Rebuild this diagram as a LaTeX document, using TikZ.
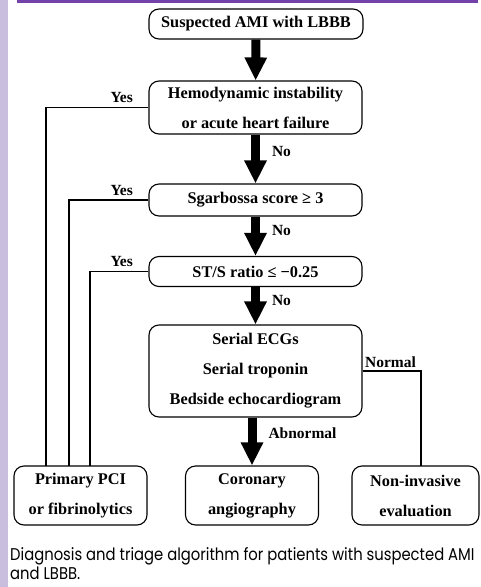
\documentclass[tikz,border=0pt]{standalone}
\usepackage{fontspec}
\setmainfont{Liberation Serif}
\newfontfamily\capfont[FakeStretch=0.87]{Poppins}
\usetikzlibrary{arrows.meta}
\definecolor{lavstrip}{RGB}{201,190,221}
\definecolor{topbar}{RGB}{116,64,170}

\begin{document}
\begin{tikzpicture}[x=1pt,y=-1pt,
  box/.style={draw, line width=1.1pt, rounded corners=10pt, align=center,
    font=\fontsize{16.3}{30}\selectfont\bfseries, inner sep=0pt},
  bigarrow/.style={line width=9pt, -{Triangle[width=21pt,length=23pt]}},
  lbl/.style={font=\fontsize{15.5}{18}\selectfont\bfseries, inner sep=1pt},
  link/.style={line width=1.1pt}]
\useasboundingbox (0,0) rectangle (480,587);
\clip (0,0) rectangle (480,587);
% page frame
\fill[lavstrip] (0,0) rectangle (8,587);
\fill[topbar] (17,0) rectangle (478,3);
%
\node[box, minimum width=214pt, minimum height=30pt] (start) at (256,24) {Suspected AMI with LBBB};
\node[box, minimum width=213pt, minimum height=53pt] (hemo) at (255.5,107.5) {Hemodynamic instability\\or acute heart failure};
\node[box, minimum width=213pt, minimum height=32pt] (sgar) at (255.5,200) {Sgarbossa score ≥ 3};
\node[box, minimum width=213pt, minimum height=30pt] (stsr) at (255.5,271.5) {ST/S ratio ≤ −0.25};
\node[box, minimum width=213pt, minimum height=92pt] (serial) at (255.5,371) {Serial ECGs\\Serial troponin\\Bedside echocardiogram};
%
\node[box, minimum width=133pt, minimum height=59pt] (pci) at (80.5,495.5) {Primary PCI\\or fibrinolytics};
\node[box, minimum width=133pt, minimum height=59pt] (coro) at (252,495.5) {Coronary\\angiography};
\node[box, minimum width=127pt, minimum height=59pt] (noninv) at (415.5,495.5) {Non-invasive\\evaluation};
%
\coordinate (p1) at (46,466);
\coordinate (p2) at (69,466);
\coordinate (p3) at (90,466);
\coordinate (n1) at (421,466);
%
\draw[bigarrow] (start) -- (hemo);
\draw[bigarrow] (hemo) -- node[lbl, right=11pt, pos=0.35] {No} (sgar);
\draw[bigarrow] (sgar) -- node[lbl, right=11pt, pos=0.35] {No} (stsr);
\draw[bigarrow] (stsr) -- node[lbl, right=11pt, pos=0.35] {No} (serial);
\draw[bigarrow] (serial.south -| coro.north) -- node[lbl, right=11pt, pos=0.33] {Abnormal} (coro.north);
%
\draw[link] (hemo.west) node[lbl, above left, xshift=-14pt, yshift=3pt] {Yes} -| (p1);
\draw[link] (sgar.west) node[lbl, above left, xshift=-14pt, yshift=3pt] {Yes} -| (p2);
\draw[link] (stsr.west) node[lbl, above left, xshift=-14pt, yshift=3pt] {Yes} -| (p3);
\draw[link] (serial.east) node[lbl, above right, xshift=1pt, yshift=1.5pt] {Normal} -| (n1);
%
\node[anchor=north west, inner sep=0pt, align=left, font=\capfont\fontsize{17}{19}\selectfont] (caption) at (10,547)
  {Diagnosis and triage algorithm for patients with suspected AMI\\and LBBB.};
\end{tikzpicture}
\end{document}
